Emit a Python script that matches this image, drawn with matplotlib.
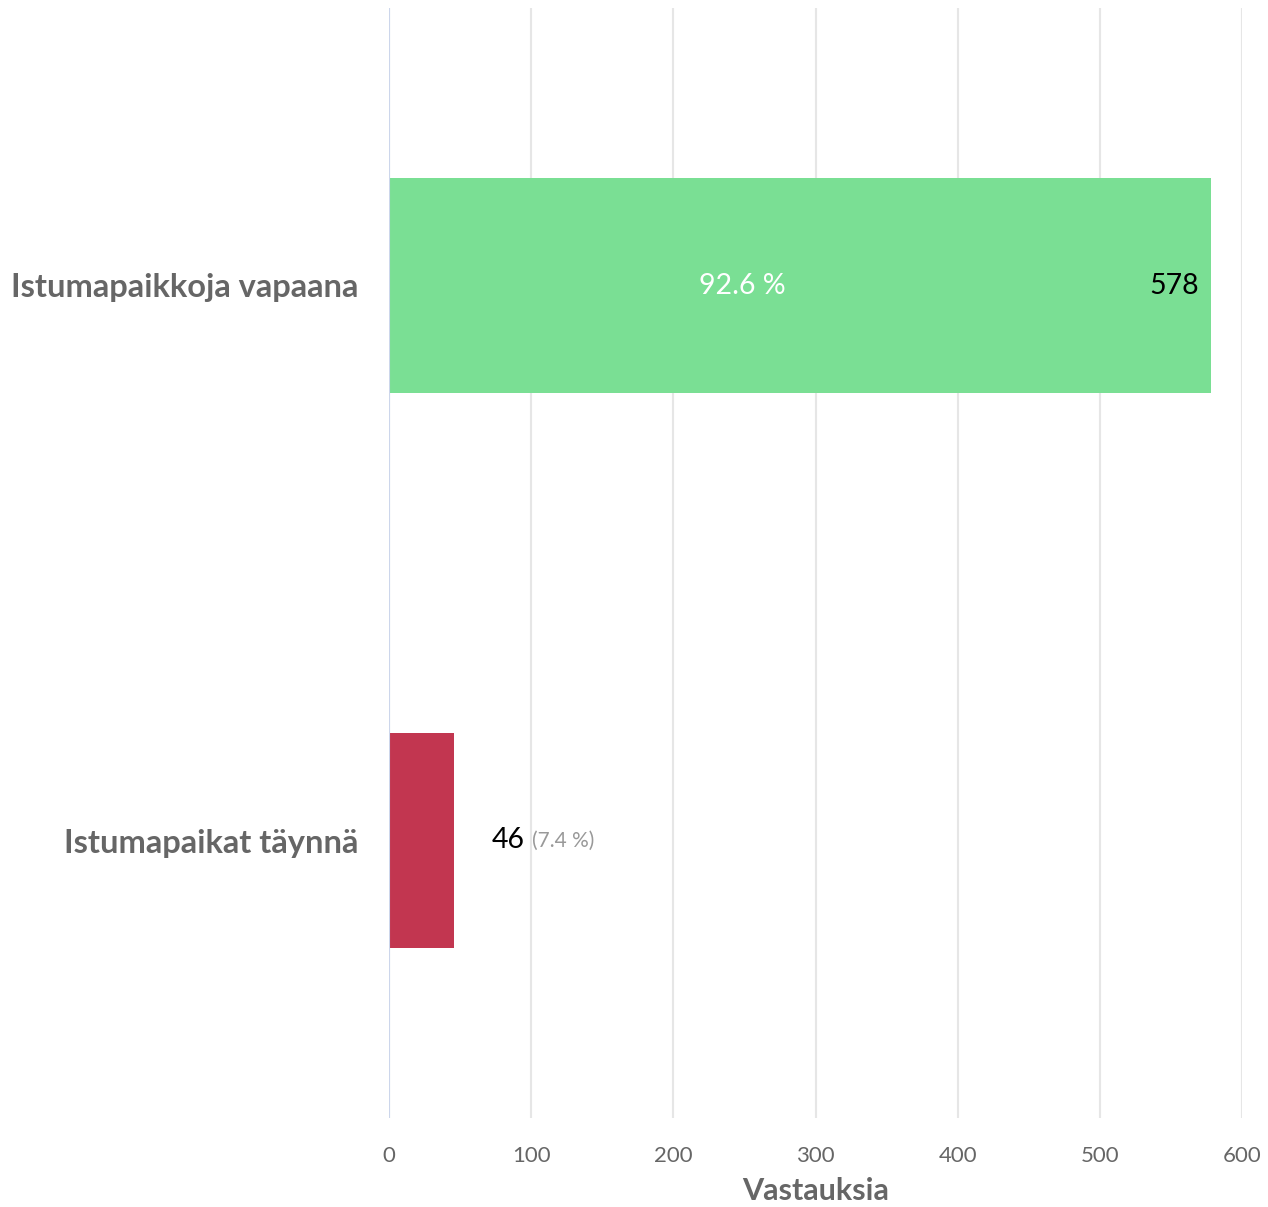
import matplotlib
matplotlib.use("Agg")
import matplotlib.pyplot as plt

categories = ["Istumapaikkoja vapaana", "Istumapaikat täynnä"]
values = [578, 46]
percents = [92.6, 7.4]
colors = ["#7ADF94", "#C23650"]
xticks = [0, 100, 200, 300, 400, 500, 600]
xlabel = "Vastauksia"

plt.rcParams['font.family'] = ['Lato', 'DejaVu Sans']

fig = plt.figure(figsize=(12.68, 12.07), dpi=100)
ax = fig.add_axes([389/1268, 1 - 1118/1207, (1242-389)/1268, (1118-8)/1207])

ypos = list(range(len(categories)))
ax.barh(ypos, values, height=0.386, color=colors, zorder=3)
ax.set_ylim(len(categories) - 0.5, -0.5)
ax.set_xlim(0, 600)
ax.set_xticks(xticks)
ax.set_xticklabels([str(t) for t in xticks], fontsize=16, color="#666666")
ax.set_yticks(ypos)
ax.set_yticklabels(categories, fontsize=23.5, fontweight="bold", color="#666666")
ax.tick_params(axis="both", length=0)
ax.tick_params(axis="x", pad=20)
ax.tick_params(axis="y", pad=22)
for s in ax.spines.values():
    s.set_visible(False)
ax.grid(axis="x", color="#e6e6e6", linewidth=1.5, zorder=0)
ax.axvline(0, color="#ccd6eb", linewidth=1.5, zorder=4)
ax.set_xlabel(xlabel, fontsize=22, fontweight="bold", color="#666666", labelpad=8)

# labels
ax.text(values[0] - 8, 0, str(values[0]), ha="right", va="center", fontsize=20.5, color="black", zorder=5)
ax.text(values[0] * 0.43, 0, f"{percents[0]} %", ha="center", va="center", fontsize=20.5, color="white", zorder=5)
t = ax.text(values[1] + 26, 1, str(values[1]), ha="left", va="center", fontsize=20.5, color="black", zorder=5)
fig.canvas.draw()
bb = t.get_window_extent()
inv = ax.transData.inverted()
x_end = inv.transform((bb.x1 + 8, 0))[0]
ax.text(x_end, 1, f"({percents[1]} %)", ha="left", va="center", fontsize=15, color="#999999", zorder=5)

fig.savefig("out.png", dpi=100, facecolor="white")
